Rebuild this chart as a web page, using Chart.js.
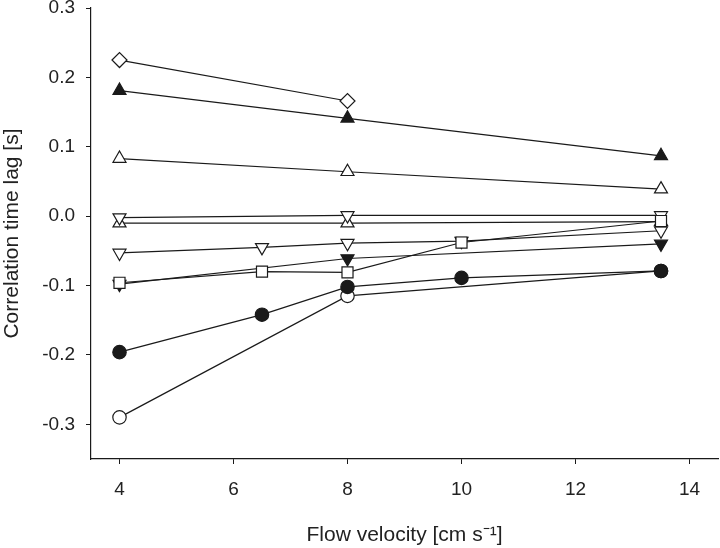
<!DOCTYPE html>
<html>
<head>
<meta charset="utf-8">
<script src="https://cdn.jsdelivr.net/npm/chart.js@4.4.0/dist/chart.umd.min.js"></script>
<style>
    html, body { margin: 0; padding: 0; background: #fff; }
    #wrap { width: 720px; height: 548px; }
</style>
</head>
<body>
<div id="wrap"><canvas id="lagChart"></canvas></div>
<script>
// tick labels
const xTicks = [4, 6, 8, 10, 12, 14];
const yTicks = [-0.3, -0.2, -0.1, 0.0, 0.1, 0.2, 0.3];

// series (flow velocity, time lag)
const diamondX = [4, 8];
const diamondY = [0.225, 0.166];

const filledUpX = [4, 8, 13.5];
const filledUpY = [0.181, 0.141, 0.087];

const openUpX = [4, 8, 13.5];
const openUpY = [0.083, 0.064, 0.039];

const openDownTopX = [4, 8, 13.5];
const openDownTopY = [-0.002, 0.001, 0.001];

const openUpLowX = [4, 8, 13.5];
const openUpLowY = [-0.010, -0.010, -0.008];

const openDownX = [4, 6.5, 8, 10, 13.5];
const openDownY = [-0.053, -0.045, -0.039, -0.036, -0.021];

const squareX = [4, 6.5, 8, 10, 13.5];
const squareY = [-0.096, -0.080, -0.081, -0.038, -0.007];

const filledDownX = [4, 8, 13.5];
const filledDownY = [-0.098, -0.061, -0.040];

const filledCircleX = [4, 6.5, 8, 10, 13.5];
const filledCircleY = [-0.196, -0.142, -0.102, -0.089, -0.079];

const openCircleX = [4, 8, 13.5];
const openCircleY = [-0.290, -0.115, -0.079];

const ink = "#1a1a1a";

function series(xs, ys, style, filled, radius, rotation) {
    return {
        data: xs.map((x, i) => ({ x: x, y: ys[i] })),
        showLine: true,
        borderColor: ink,
        borderWidth: 1.2,
        pointStyle: style,
        pointRadius: radius,
        pointRotation: rotation || 0,
        pointBackgroundColor: filled ? ink : "#fff",
        pointBorderColor: ink,
        pointBorderWidth: 1.2
    };
}

const family = "'Liberation Sans', Arial, sans-serif";

new Chart(document.getElementById("lagChart"), {
    type: "scatter",
    data: {
        datasets: [
            series(filledCircleX, filledCircleY, "circle", true, 6.7),
            series(openCircleX, openCircleY, "circle", false, 6.7),
            series(squareX, squareY, "rect", false, 7.8),
            series(openDownX, openDownY, "triangle", false, 7.5, 180),
            series(filledDownX, filledDownY, "triangle", true, 7.5, 180),
            series(openDownTopX, openDownTopY, "triangle", false, 7.5, 180),
            series(openUpLowX, openUpLowY, "triangle", false, 7.5),
            series(openUpX, openUpY, "triangle", false, 7.5),
            series(filledUpX, filledUpY, "triangle", true, 7.5),
            series(diamondX, diamondY, "rectRot", false, 7.5)
        ]
    },
    options: {
        responsive: true,
        maintainAspectRatio: false,
        animation: false,
        layout: { autoPadding: false, padding: { top: 8, right: 2, left: 0, bottom: 0 } },
        plugins: {
            legend: { display: false },
            tooltip: { enabled: false }
        },
        scales: {
            x: {
                type: "linear",
                min: 3.5,
                max: 14.5,
                afterBuildTicks: (axis) => { axis.ticks = xTicks.map(v => ({ value: v })); },
                afterFit: (axis) => { axis.height = 89; },
                ticks: { color: "#222", font: { family: family, size: 19 }, padding: 14 },
                grid: { drawOnChartArea: false, tickLength: 5, color: ink },
                border: { display: true, color: ink, width: 1.2 },
                title: {
                    display: true,
                    text: "Flow velocity [cm s\u207B\u00B9]",
                    color: "#222",
                    font: { family: family, size: 21 },
                    padding: { top: 0, bottom: 0 }
                }
            },
            y: {
                type: "linear",
                min: -0.35,
                max: 0.3,
                afterBuildTicks: (axis) => { axis.ticks = yTicks.map(v => ({ value: v })); },
                afterFit: (axis) => {
                    axis.width = 91;
                    axis.paddingTop = 0;
                    axis.paddingBottom = 0;
                },
                ticks: {
                    color: "#222",
                    font: { family: family, size: 19 },
                    padding: 11,
                    callback: (v) => Number(v).toFixed(1)
                },
                grid: { drawOnChartArea: false, tickLength: 5, color: ink },
                border: { display: true, color: ink, width: 1.2 },
                title: {
                    display: true,
                    text: "Correlation time lag [s]",
                    color: "#222",
                    font: { family: family, size: 21 },
                    padding: { top: 0, bottom: 0 }
                }
            }
        }
    }
});
</script>
</body>
</html>
